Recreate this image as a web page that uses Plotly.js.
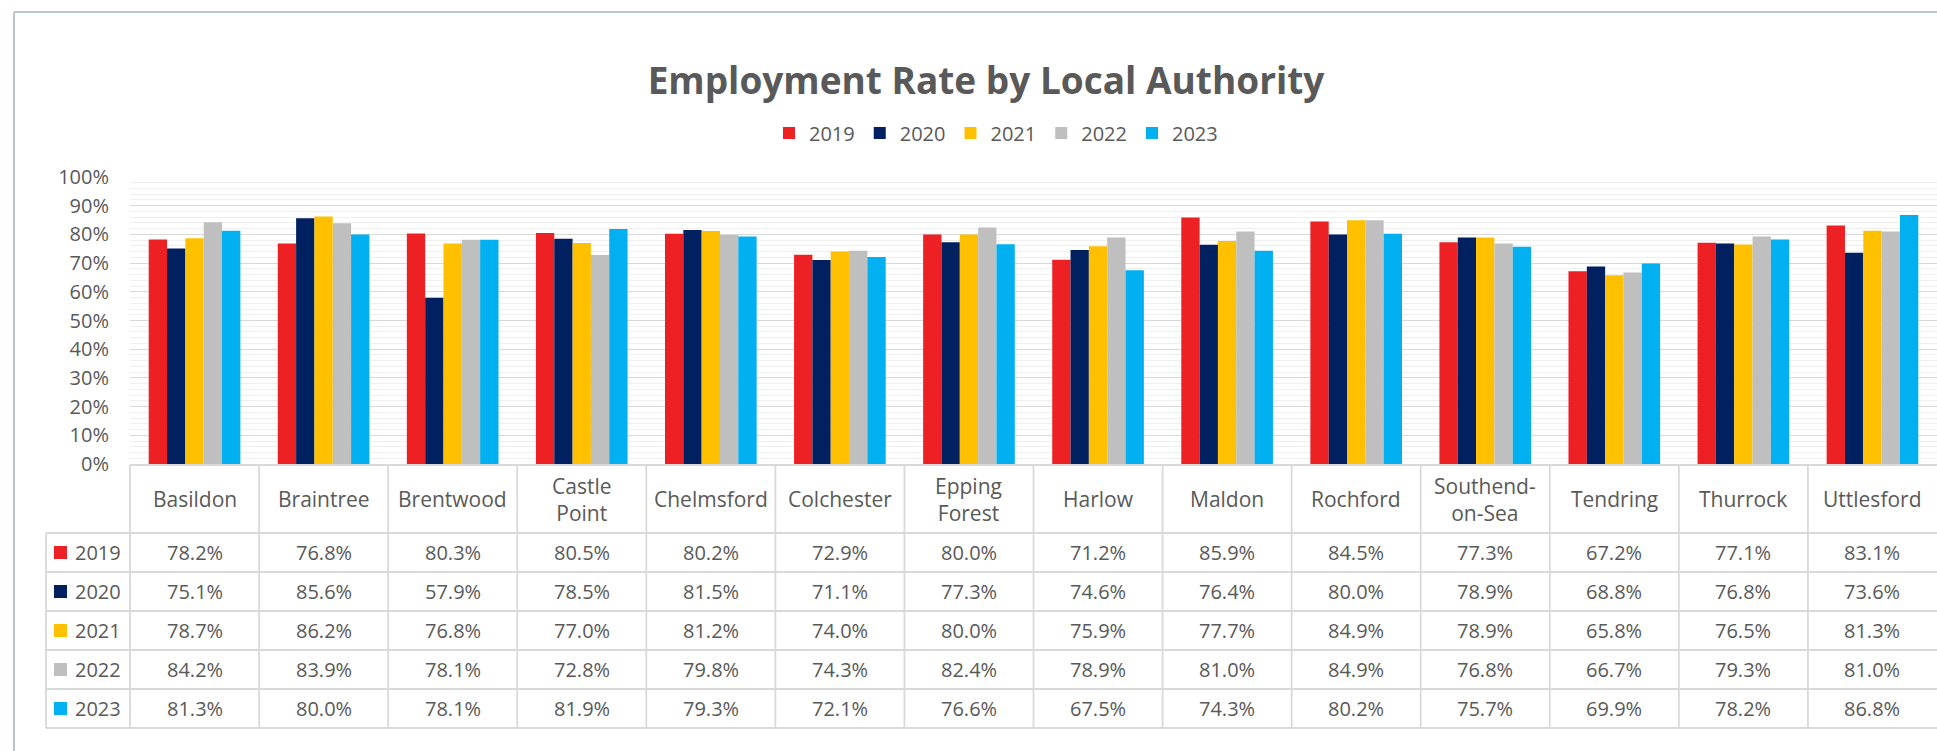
<!DOCTYPE html>
<html>
<head>
<meta charset="utf-8">
<script src="https://cdn.plot.ly/plotly-3.0.1.min.js"></script>
<style>
  html, body { margin: 0; padding: 0; background: #ffffff; }
  #chart { width: 1937px; height: 751px; }
</style>
</head>
<body>
<div id="chart"></div>
<script>
// ---------------- DATA ----------------
var categories = ['Basildon','Braintree','Brentwood','Castle Point','Chelmsford','Colchester','Epping Forest','Harlow','Maldon','Rochford','Southend-on-Sea','Tendring','Thurrock','Uttlesford'];
var headerLabels = ['Basildon','Braintree','Brentwood','Castle<br>Point','Chelmsford','Colchester','Epping<br>Forest','Harlow','Maldon','Rochford','Southend-<br>on-Sea','Tendring','Thurrock','Uttlesford'];
var years = ['2019','2020','2021','2022','2023'];
var v2019 = [78.2, 76.8, 80.3, 80.5, 80.2, 72.9, 80.0, 71.2, 85.9, 84.5, 77.3, 67.2, 77.1, 83.1];
var v2020 = [75.1, 85.6, 57.9, 78.5, 81.5, 71.1, 77.3, 74.6, 76.4, 80.0, 78.9, 68.8, 76.8, 73.6];
var v2021 = [78.7, 86.2, 76.8, 77.0, 81.2, 74.0, 80.0, 75.9, 77.7, 84.9, 78.9, 65.8, 76.5, 81.3];
var v2022 = [84.2, 83.9, 78.1, 72.8, 79.8, 74.3, 82.4, 78.9, 81.0, 84.9, 76.8, 66.7, 79.3, 81.0];
var v2023 = [81.3, 80.0, 78.1, 81.9, 79.3, 72.1, 76.6, 67.5, 74.3, 80.2, 75.7, 69.9, 78.2, 86.8];
var seriesValues = [v2019, v2020, v2021, v2022, v2023];
var colors = ['#ED2024', '#002060', '#FFC000', '#BFBFBF', '#00B0F0'];

// ---------------- LAYOUT CONSTANTS (pixels) ----------------
var W = 1937, H = 751;
var ML = 130, MR = 0, MT = 177, PLOT_BOTTOM = 464;
var MB = H - PLOT_BOTTOM;
var PW = W - ML - MR, PH = PLOT_BOTTOM - MT;
var TABLE_TOP = 465, HEADER_H = 68, ROW_H = 39;
var ROWHEAD_LEFT = 46;
var FONT = '"Open Sans", "Noto Sans", sans-serif';
var TXT = '#595959';
var GRID = '#d9d9d9';

function px2x(px) { return (px - ML) / PW; }
function px2y(py) { return (PLOT_BOTTOM - py) / PH; }

// ---------------- TRACES ----------------
var traces = years.map(function (yr, i) {
  return {
    type: 'bar',
    name: yr,
    x: categories,
    y: seriesValues[i].map(function (v) { return v / 100; }),
    marker: { color: colors[i] },
    hoverinfo: 'skip'
  };
});

// ---------------- TABLE (shapes + annotations) ----------------
var shapes = [];
var annotations = [];
var lineStyle = { color: GRID, width: 1.8 };
var tableBottom = TABLE_TOP + HEADER_H + years.length * ROW_H;

// horizontal lines (rows)
for (var r = 0; r <= years.length; r++) {
  var yy = TABLE_TOP + HEADER_H + r * ROW_H;
  shapes.push({ type: 'line', xref: 'paper', yref: 'paper',
    x0: px2x(ROWHEAD_LEFT), x1: 1, y0: px2y(yy), y1: px2y(yy), line: lineStyle });
}
// vertical lines between categories
shapes.push({ type: 'line', xref: 'paper', yref: 'paper',
  x0: 0, x1: 0, y0: px2y(TABLE_TOP), y1: px2y(tableBottom), line: lineStyle });
for (var c = 1; c < categories.length; c++) {
  shapes.push({ type: 'line', xref: 'x', yref: 'paper',
    x0: c - 0.5, x1: c - 0.5, y0: px2y(TABLE_TOP), y1: px2y(tableBottom), line: lineStyle });
}
// left border of row header column
shapes.push({ type: 'line', xref: 'paper', yref: 'paper',
  x0: px2x(ROWHEAD_LEFT), x1: px2x(ROWHEAD_LEFT),
  y0: px2y(TABLE_TOP + HEADER_H), y1: px2y(tableBottom), line: lineStyle });

// header labels
categories.forEach(function (cat, i) {
  annotations.push({ xref: 'x', yref: 'paper', x: cat, y: px2y(TABLE_TOP + HEADER_H / 2),
    text: headerLabels[i], showarrow: false, xanchor: 'center', yanchor: 'middle',
    font: { family: FONT, size: 21, color: TXT } });
});
// rows
years.forEach(function (yr, r) {
  var cy = TABLE_TOP + HEADER_H + r * ROW_H + ROW_H / 2;
  // legend key square
  shapes.push({ type: 'rect', xref: 'paper', yref: 'paper',
    x0: px2x(54), x1: px2x(67), y0: px2y(cy - 6.5), y1: px2y(cy + 6.5),
    fillcolor: colors[r], line: { width: 0 } });
  annotations.push({ xref: 'paper', yref: 'paper', x: px2x(73), y: px2y(cy),
    text: yr, showarrow: false, xanchor: 'left', yanchor: 'middle',
    font: { family: FONT, size: 20, color: TXT } });
  categories.forEach(function (cat, i) {
    annotations.push({ xref: 'x', yref: 'paper', x: cat, y: px2y(cy),
      text: seriesValues[r][i].toFixed(1) + '%', showarrow: false,
      xanchor: 'center', yanchor: 'middle',
      font: { family: FONT, size: 20, color: TXT } });
  });
});

// outer chart frame (left + top)
var frameStyle = { color: '#b9c9c9', width: 2 };
shapes.push({ type: 'line', xref: 'paper', yref: 'paper',
  x0: px2x(14), x1: px2x(14), y0: px2y(12), y1: px2y(H + 2), line: frameStyle });
shapes.push({ type: 'line', xref: 'paper', yref: 'paper',
  x0: px2x(14), x1: px2x(W + 2), y0: px2y(12), y1: px2y(12), line: frameStyle });

var layout = {
  width: W, height: H,
  margin: { l: ML, r: MR, t: MT, b: MB, pad: 0 },
  paper_bgcolor: '#ffffff', plot_bgcolor: '#ffffff',
  font: { family: FONT, color: TXT },
  title: {
    text: '<b>Employment Rate by Local Authority</b>',
    font: { family: FONT, size: 37, color: TXT },
    xref: 'container', yref: 'container',
    x: 986 / W, xanchor: 'center', y: 1 - 81 / H, yanchor: 'middle'
  },
  showlegend: true,
  legend: {
    orientation: 'h', xref: 'paper', yref: 'paper',
    x: px2x(996), xanchor: 'center', y: px2y(133), yanchor: 'middle',
    font: { family: FONT, size: 20, color: TXT },
    itemwidth: 30, tracegroupgap: 0
  },
  barmode: 'group', bargap: 0.29, bargroupgap: 0,
  xaxis: {
    type: 'category', range: [-0.5, categories.length - 0.5],
    showticklabels: false, ticks: '', showgrid: false, zeroline: false,
    showline: true, linecolor: GRID, linewidth: 1.8, fixedrange: true
  },
  yaxis: {
    range: [0, 1], dtick: 0.1, tick0: 0, tickformat: '.0%',
    showgrid: true, gridcolor: GRID, gridwidth: 1,
    minor: { dtick: 0.02, tick0: 0, showgrid: true, gridcolor: '#efefef', gridwidth: 1 },
    zeroline: false, showline: false, ticks: '',
    ticklabelstandoff: 20,
    tickfont: { family: FONT, size: 20, color: TXT }, fixedrange: true
  },
  hovermode: false,
  shapes: shapes,
  annotations: annotations
};

Plotly.newPlot('chart', traces, layout, { displayModeBar: false, staticPlot: true });
</script>
</body>
</html>
